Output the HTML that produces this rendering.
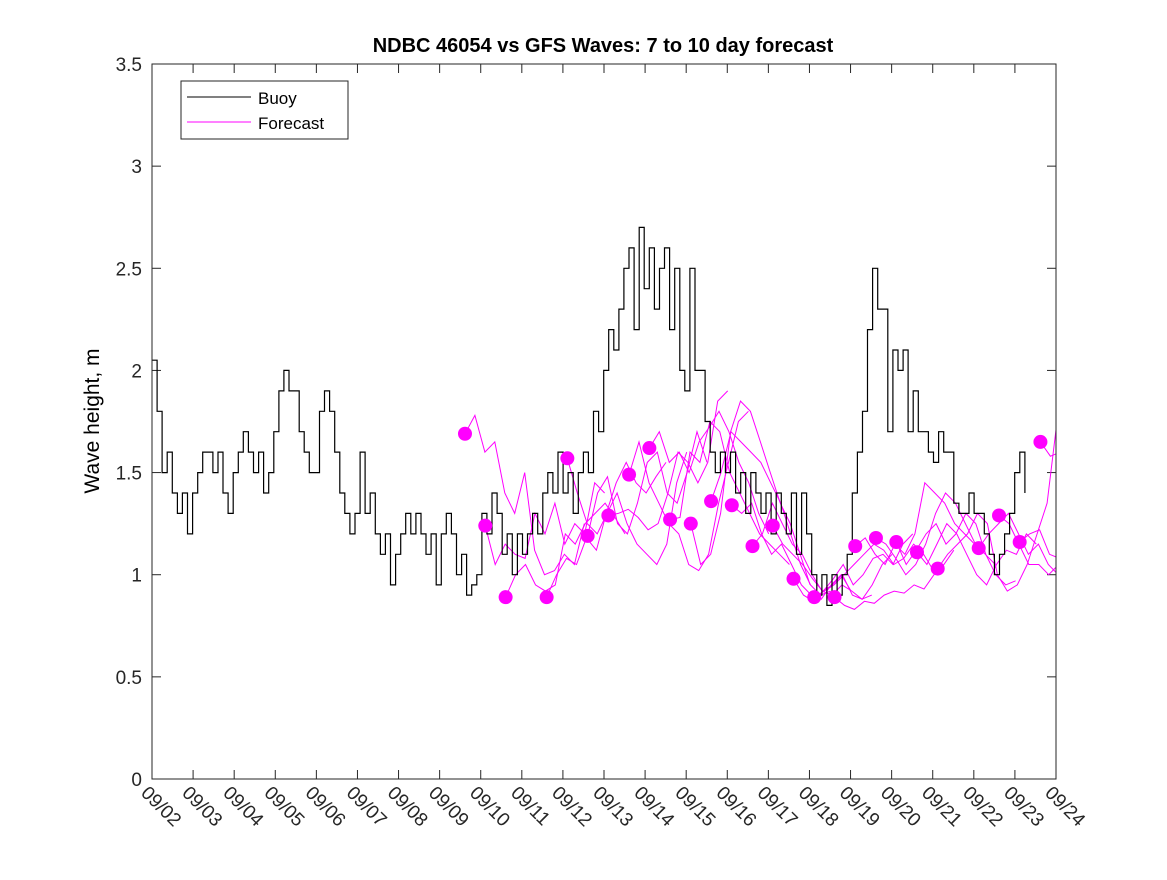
<!DOCTYPE html>
<html><head><meta charset="utf-8"><style>
html,body{margin:0;padding:0;background:#fff;}
svg text{font-family:"Liberation Sans","DejaVu Sans",sans-serif;}
</style></head><body>
<svg id="chart" width="1167" height="875" xmlns="http://www.w3.org/2000/svg">
<rect width="1167" height="875" fill="#fff"/>
<defs><clipPath id="plotclip"><rect x="152" y="64" width="904" height="715"/></clipPath></defs>
<text x="603" y="52" text-anchor="middle" font-size="20" font-weight="bold">NDBC 46054 vs GFS Waves: 7 to 10 day forecast</text>
<text transform="translate(99,421) rotate(-90)" text-anchor="middle" font-size="21">Wave height, m</text>
<g id="axes"></g>
<g id="fc" clip-path="url(#plotclip)"></g>
<g id="buoy" clip-path="url(#plotclip)"></g>
<g id="dots"></g>
<rect x="152" y="64" width="904" height="715" fill="none" stroke="#262626" stroke-width="1"/>
<g>
<rect x="181" y="81" width="167" height="58" fill="#fff" stroke="#262626" stroke-width="1"/>
<line x1="187" y1="97" x2="251" y2="97" stroke="#000" stroke-width="1"/>
<text x="258" y="104" font-size="17">Buoy</text>
<line x1="187" y1="122" x2="251" y2="122" stroke="#ff00ff" stroke-width="1"/>
<text x="258" y="129" font-size="17">Forecast</text>
</g>
</svg>
<script>
const xTickLabels = ["09/02","09/03","09/04","09/05","09/06","09/07","09/08","09/09","09/10","09/11","09/12","09/13","09/14","09/15","09/16","09/17","09/18","09/19","09/20","09/21","09/22","09/23","09/24"];
const yTicks = [0,0.5,1,1.5,2,2.5,3,3.5];
const yTickLabels = ["0","0.5","1","1.5","2","2.5","3","3.5"];
const buoyStart = 2.0;
const buoyStep = 0.1235;
const buoyValues = [
2.05,1.8,1.5,1.6,1.4,1.3,1.4,1.2,
1.4,1.5,1.6,1.6,1.5,1.6,1.4,1.3,
1.5,1.6,1.7,1.6,1.5,1.6,1.4,1.5,
1.7,1.9,2.0,1.9,1.9,1.7,1.6,1.5,
1.5,1.8,1.9,1.8,1.6,1.4,1.3,1.2,
1.3,1.6,1.3,1.4,1.2,1.1,1.2,0.95,
1.1,1.2,1.3,1.2,1.3,1.2,1.1,1.2,
0.95,1.2,1.3,1.2,1.0,1.1,0.9,0.95,
1.0,1.3,1.2,1.4,1.3,1.1,1.2,1.0,
1.2,1.1,1.2,1.3,1.2,1.4,1.5,1.4,
1.6,1.4,1.5,1.3,1.5,1.6,1.5,1.8,
1.7,2.0,2.2,2.1,2.3,2.5,2.6,2.2,
2.7,2.4,2.6,2.3,2.5,2.6,2.2,2.5,
2.0,1.9,2.5,2.0,2.0,1.75,1.6,1.5,
1.6,1.5,1.6,1.4,1.5,1.3,1.5,1.4,
1.3,1.4,1.2,1.4,1.3,1.2,1.4,1.1,
1.4,1.2,1.0,0.9,1.0,0.85,1.0,0.9,
1.0,1.1,1.4,1.6,1.8,2.2,2.5,2.3,
2.3,1.7,2.1,2.0,2.1,1.7,1.9,1.7,
1.7,1.6,1.55,1.7,1.6,1.6,1.35,1.3,
1.3,1.4,1.3,1.3,1.2,1.1,1.0,1.1,
1.2,1.3,1.5,1.6,1.4
];
const fcStartDays = [9.617,10.111,10.606,11.604,12.108,12.602,13.106,13.610,14.104,14.608,15.112,15.606,16.110,16.614,17.108,17.612,18.116,18.610,19.114,19.618,20.113,20.617,21.121,22.119,22.613,23.116,23.621];
const fcStep = 0.242;
const fc0 = [1.69,1.78,1.60,1.65,1.40,1.30,1.50,1.12,1.00,1.02,1.10,1.05,1.25];
const fc1 = [1.24,1.05,1.15,1.10,1.08,1.30,1.20,1.35,1.15,1.25,1.20,1.45,1.40];
const fc2 = [0.89,1.00,1.05,0.95,0.92,0.95,1.20,1.15,1.25,1.30,1.35,1.28,1.20];
const fc3 = [0.89,1.00,1.08,1.05,1.18,1.12,1.30,1.45,1.55,1.45,1.40,1.48,1.55];
const fc4 = [1.57,1.40,1.25,1.20,1.30,1.40,1.25,1.15,1.10,1.05,1.15,1.45,1.60];
const fc5 = [1.19,1.40,1.48,1.25,1.20,1.35,1.55,1.60,1.40,1.35,1.50,1.70,1.55];
const fc6 = [1.29,1.30,1.32,1.28,1.22,1.25,1.40,1.60,1.55,1.45,1.55,1.85,1.90];
const fc7 = [1.49,1.65,1.45,1.35,1.25,1.20,1.05,1.02,1.10,1.35,1.55,1.75,1.80];
const fc8 = [1.62,1.70,1.55,1.60,1.50,1.65,1.72,1.80,1.70,1.55,1.45,1.30,1.20];
const fc9 = [1.27,1.28,1.60,1.55,1.75,1.70,1.50,1.40,1.30,1.20,1.15,1.10,1.05];
const fc10 = [1.25,1.05,1.10,1.30,1.70,1.85,1.80,1.65,1.50,1.35,1.25,1.10,0.95];
const fc11 = [1.36,1.50,1.70,1.65,1.60,1.55,1.45,1.35,1.20,1.05,0.95,0.90,0.92];
const fc12 = [1.34,1.30,1.35,1.20,1.10,1.15,1.05,0.95,0.90,0.88,0.95,1.00,0.92];
const fc13 = [1.14,1.20,1.35,1.25,1.15,1.10,1.00,0.92,0.90,0.95,0.92,0.88,0.90];
const fc14 = [1.24,1.15,1.10,1.05,0.98,0.92,0.95,1.00,0.90,0.88,0.95,1.05,1.10];
const fc15 = [0.98,0.90,0.87,0.92,0.98,1.05,0.95,1.00,1.08,1.10,1.05,1.15,1.20];
const fc16 = [0.89,0.92,0.95,1.00,1.05,1.10,1.15,1.12,1.05,1.08,1.15,1.10,1.02];
const fc17 = [0.89,0.85,0.83,0.87,0.86,0.90,0.92,0.91,0.95,0.93,1.00,1.05,1.12];
const fc18 = [1.14,1.18,1.10,1.05,1.15,1.10,1.20,1.45,1.40,1.35,1.25,1.20,1.15];
const fc19 = [1.18,1.15,1.08,1.00,1.05,1.15,1.30,1.40,1.35,1.25,1.15,1.10,1.05];
const fc20 = [1.16,1.05,1.12,1.20,1.25,1.15,1.20,1.30,1.25,1.10,1.00,0.95,0.97];
const fc21 = [1.11,1.05,1.15,1.25,1.20,1.10,1.00,0.95,1.05,1.12,1.10,1.20,1.15];
const fc22 = [1.03,1.10,1.15,1.20,1.30,1.25,1.00,0.92,0.95,1.05,1.20,1.35,1.75];
const fc23 = [1.13,1.20,1.25,1.30,1.20,1.10,1.15,1.05,1.00,1.05,1.15,1.20,1.18];
const fc24 = [1.29,1.25,1.15,1.05,1.05,1.00,1.05,1.15,1.20,1.15,1.15,1.10,1.25];
const fc25 = [1.16,1.20,1.22,1.10,1.08,1.15,1.40,1.60,1.75];
const fc26 = [1.65,1.58,1.60,1.75];
const fcSeries = [fc0,fc1,fc2,fc3,fc4,fc5,fc6,fc7,fc8,fc9,fc10,fc11,fc12,fc13,fc14,fc15,fc16,fc17,fc18,fc19,fc20,fc21,fc22,fc23,fc24,fc25,fc26];

const NS="http://www.w3.org/2000/svg";
const X0=152,X1=1056,Y0=779,Y1=64;
function xs(d){return X0+(d-2)*(X1-X0)/22;}
function ys(v){return Y0-v*(Y0-Y1)/3.5;}
function mk(tag,attrs){const e=document.createElementNS(NS,tag);for(const k in attrs)e.setAttribute(k,attrs[k]);return e;}

const axes=document.getElementById('axes');
xTickLabels.forEach((lab,i)=>{
  const x=xs(2+i);
  const t1=mk('line',{x1:x,y1:Y0,x2:x,y2:Y0-9,stroke:'#262626'});
  
  
  axes.appendChild(t1);
  const t2=mk('line',{x1:x,y1:Y1,x2:x,y2:Y1+9,stroke:'#262626'});
  
  
  axes.appendChild(t2);
  const tx=mk('text',{transform:`translate(${x-12},${Y0+15}) rotate(45)`,'font-size':'19',fill:'#262626'});
  tx.textContent=lab;
  
  
  axes.appendChild(tx);
});
yTicks.forEach((v,i)=>{
  const y=ys(v);
  const t1=mk('line',{x1:X0,y1:y,x2:X0+9,y2:y,stroke:'#262626'});
  
  
  axes.appendChild(t1);
  const t2=mk('line',{x1:X1,y1:y,x2:X1-9,y2:y,stroke:'#262626'});
  
  
  axes.appendChild(t2);
  const tx=mk('text',{x:X0-10,y:y+7,'text-anchor':'end','font-size':'19',fill:'#262626'});
  tx.textContent=yTickLabels[i];
  
  
  axes.appendChild(tx);
});

const fcG=document.getElementById('fc');
const dotsG=document.getElementById('dots');
fcSeries.forEach((arr,j)=>{
  const d0=fcStartDays[j];
  const pts=arr.map((v,i)=>xs(d0+i*fcStep).toFixed(1)+','+ys(v).toFixed(1)).join(' ');
  const pl=mk('polyline',{points:pts,fill:'none',stroke:'#ff00ff','stroke-width':'1'});
  
  
  fcG.appendChild(pl);
  const c=mk('circle',{cx:xs(d0),cy:ys(arr[0]),r:'7',fill:'#ff00ff'});
  
  
  dotsG.appendChild(c);
});

const bG=document.getElementById('buoy');
let p='';
buoyValues.forEach((v,i)=>{
  const x=xs(buoyStart+i*buoyStep).toFixed(1), y=ys(v).toFixed(1);
  if(i===0)p+=`M${x},${y}`;else p+=` L${x},${ys(buoyValues[i-1]).toFixed(1)} L${x},${y}`;
});
const bp=mk('path',{d:p,fill:'none',stroke:'#000','stroke-width':'1.2'});


bG.appendChild(bp);
</script>
</body></html>
